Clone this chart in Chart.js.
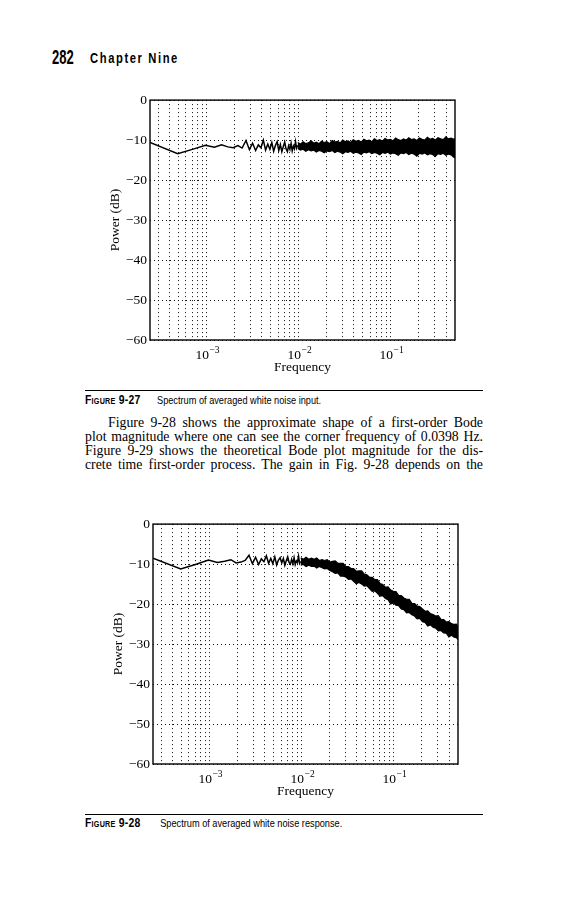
<!DOCTYPE html>
<html>
<head>
<meta charset="utf-8">
<script src="https://cdn.jsdelivr.net/npm/chart.js@4.4.1/dist/chart.umd.min.js"></script>
<style>
html, body { margin: 0; padding: 0; background: #fff; }
body { width: 570px; height: 900px; position: relative; overflow: hidden; color: #000; }
canvas { position: absolute; }
#top_chart { left: 90px; top: 89px; }
#bottom_chart { left: 93px; top: 513px; }
.pg { position: absolute; left: 52px; top: 46.5px; font-family: "Liberation Sans", sans-serif; font-weight: bold; font-size: 20px; line-height: 20px; transform: scaleX(0.65); transform-origin: left top; }
.chap { position: absolute; left: 90px; top: 51px; font-family: "Liberation Sans", sans-serif; font-weight: bold; font-size: 14px; line-height: 14px; letter-spacing: 2px; transform: scaleX(0.8); transform-origin: left top; }
.rule { position: absolute; left: 85px; width: 398px; height: 0; border-top: 1.5px solid #000; }
.cap { position: absolute; left: 85px; font-family: "Liberation Sans", sans-serif; font-size: 11.5px; line-height: 12px; white-space: nowrap; transform: scaleX(0.8); transform-origin: left top; }
.cap b { display: inline-block; font-variant: small-caps; font-size: 13px; letter-spacing: 0.3px; }
.txt { position: absolute; left: 85px; width: 398px; font-family: "Liberation Serif", serif; font-size: 13.8px; line-height: 14px; text-align: justify; text-align-last: justify; }
</style>
</head>
<body>
<div class="pg">282</div>
<div class="chap">Chapter Nine</div>

<canvas id="top_chart" width="375" height="290"></canvas>

<div class="rule" style="top:390px"></div>
<div class="cap" style="top:394px"><b style="width:90px">Figure 9-27</b>Spectrum of averaged white noise input.</div>

<div class="txt" style="top:416px; left:108px; width:375px">Figure 9-28 shows the approximate shape of a first-order Bode</div>
<div class="txt" style="top:430px">plot magnitude where one can see the corner frequency of 0.0398 Hz.</div>
<div class="txt" style="top:444px">Figure 9-29 shows the theoretical Bode plot magnitude for the dis-</div>
<div class="txt" style="top:457.5px">crete time first-order process. The gain in Fig. 9-28 depends on the</div>

<canvas id="bottom_chart" width="375" height="290"></canvas>

<div class="rule" style="top:814px"></div>
<div class="cap" style="top:817px"><b style="width:94px">Figure 9-28</b>Spectrum of averaged white noise response.</div>

<script>
// frequency axis (Hz), labelled decades and minor grid multiples
const xMin = 0.000244;
const xMax = 0.5;
const decadeValues = [0.001, 0.01, 0.1];
const decadeExponents = ['\u22123', '\u22122', '\u22121'];
const gridDecades = [-4, -3, -2, -1];
const gridMultiples = [1, 2, 3, 4, 5, 6, 7, 8, 9];

// low frequency bins, drawn as a single line
const freqLow = [
  0.000244, 0.000488, 0.000732, 0.000977, 0.00122, 0.00146, 0.00171, 0.00195, 0.0022, 0.00244,
  0.00269, 0.00293, 0.00317, 0.00342, 0.00366, 0.00391, 0.00415, 0.00439, 0.00464, 0.00488,
  0.00513, 0.00537, 0.00562, 0.00586, 0.0061, 0.00635, 0.00659, 0.00684, 0.00708, 0.00732,
  0.00757, 0.00781, 0.00806, 0.0083, 0.00854, 0.00879, 0.00903, 0.00928, 0.00952, 0.00977
];
const inputLow = [
  -10.6, -13.4, -12.2, -11.3, -11.8, -11.2, -11.7, -11.9, -11.4, -12.0,
  -10.1, -12.4, -10.8, -12.6, -11.2, -11.9, -10.0, -12.5, -11.0, -12.3,
  -10.6, -12.8, -11.3, -10.4, -12.6, -11.1, -12.9, -11.6, -10.5, -12.2,
  -12.9, -11.4, -12.3, -10.8, -12.7, -11.5, -12.2, -10.4, -12.0, -11.3
];
const responseLow = [
  -8.5, -11.2, -10.0, -9.0, -9.6, -9.3, -8.9, -9.7, -9.5, -9.1,
  -7.8, -9.9, -8.3, -10.1, -8.7, -9.4, -7.9, -9.8, -8.6, -9.9,
  -8.2, -10.2, -9.0, -8.4, -9.7, -8.6, -10.3, -9.1, -8.2, -9.6,
  -10.0, -8.8, -9.9, -8.4, -10.1, -9.2, -9.6, -8.0, -9.8, -9.3
];

// high frequency part: dense noise, drawn as a band between its edges
const freqBand = [
  0.0098, 0.0105, 0.0112, 0.012, 0.0128, 0.0137, 0.0146, 0.0156, 0.0167, 0.0178,
  0.019, 0.0203, 0.0217, 0.0232, 0.0248, 0.0265, 0.0283, 0.0302, 0.0323, 0.0345,
  0.0368, 0.0393, 0.042, 0.0449, 0.048, 0.0512, 0.0547, 0.0585, 0.0625, 0.0667,
  0.0713, 0.0762, 0.0814, 0.087, 0.093, 0.0993, 0.106, 0.1133, 0.121, 0.1293,
  0.1381, 0.1476, 0.1577, 0.1685, 0.18, 0.1923, 0.2055, 0.2195, 0.2345, 0.2506,
  0.2677, 0.286, 0.3056, 0.3265, 0.3488, 0.3727, 0.3982, 0.4254, 0.4545, 0.48, 0.5
];
const inputBandTop = [
  -10.6, -11.0, -10.4, -10.9, -10.7, -10.2, -10.8, -10.5, -10.9, -10.3,
  -10.6, -10.4, -10.9, -10.1, -10.5, -10.3, -10.7, -10.0, -10.4, -10.2,
  -10.6, -9.9, -10.3, -10.1, -10.5, -9.8, -10.2, -10.0, -10.4, -9.7,
  -10.1, -9.9, -10.3, -9.6, -10.0, -9.8, -10.2, -9.5, -9.9, -10.1,
  -9.7, -10.0, -9.4, -9.9, -9.7, -10.1, -9.5, -9.8, -10.0, -9.3,
  -9.8, -9.6, -10.0, -9.4, -9.7, -9.9, -9.2, -9.7, -9.5, -9.8, -9.6
];
const inputBandBottom = [
  -12.1, -12.5, -12.3, -12.8, -12.4, -12.7, -12.5, -13.0, -12.6, -12.8,
  -13.2, -12.7, -12.9, -12.6, -13.1, -12.8, -13.0, -13.4, -12.9, -13.1,
  -12.8, -13.3, -13.0, -13.2, -13.6, -13.0, -13.2, -12.9, -13.4, -13.1,
  -13.3, -13.7, -13.1, -13.3, -13.0, -13.5, -13.2, -13.4, -13.8, -13.2,
  -13.4, -13.1, -13.6, -13.3, -13.5, -14.0, -13.3, -13.5, -13.2, -13.7,
  -13.4, -13.6, -14.1, -13.4, -13.6, -13.3, -13.8, -13.5, -13.7, -14.2, -14.4
];
const responseBandTop = [
  -8.4, -8.8, -8.3, -8.8, -8.5, -8.8, -8.5, -9.1, -8.9, -9.1,
  -8.9, -9.5, -9.3, -9.2, -9.8, -9.8, -9.8, -10.6, -10.6, -11.1,
  -11.1, -11.8, -11.7, -11.7, -12.5, -12.7, -13.3, -13.3, -13.9, -13.9,
  -14.9, -15.1, -15.8, -15.7, -16.5, -16.8, -16.9, -17.8, -17.9, -18.5,
  -18.8, -18.8, -19.8, -19.9, -20.5, -20.6, -21.2, -21.8, -21.7, -22.4,
  -22.6, -23.0, -22.9, -23.8, -23.9, -24.5, -24.4, -24.9, -25.1, -25.0, -25.6
];
const responseBandBottom = [
  -10.3, -10.1, -10.6, -10.3, -10.6, -10.5, -11.0, -10.6, -10.9, -11.2,
  -11.1, -11.6, -11.9, -12.3, -12.2, -13.0, -13.0, -13.2, -13.8, -13.7,
  -14.3, -14.9, -14.6, -15.0, -15.5, -15.4, -16.1, -16.8, -16.7, -17.3,
  -18.0, -17.9, -18.6, -18.9, -20.0, -19.7, -20.3, -20.4, -21.2, -21.4,
  -22.2, -22.1, -22.7, -23.0, -23.7, -23.6, -24.4, -24.6, -25.5, -25.2,
  -25.8, -26.0, -26.7, -26.6, -27.2, -27.3, -28.2, -27.8, -28.3, -28.4, -28.9
];

function pts(xs, ys) {
  return xs.map((x, i) => ({ x: x, y: ys[i] }));
}

// grid positions at every 1..9 multiple of each decade
const gridTicks = [];
gridDecades.forEach(e => {
  gridMultiples.forEach(m => {
    const v = m * Math.pow(10, e);
    if (v > xMin && v < xMax) gridTicks.push(v);
  });
});

const serif = 'Liberation Serif';

// closed box round the plot area + the 10^n labels under the x axis
const frameBox = {
  id: 'frameBox',
  afterDraw(chart) {
    const a = chart.chartArea;
    const ctx = chart.ctx;
    const xs = chart.scales.x;
    ctx.save();
    ctx.strokeStyle = '#000';
    ctx.lineWidth = 1.4;
    ctx.strokeRect(a.left, a.top, a.right - a.left, a.bottom - a.top);
    ctx.fillStyle = '#000';
    ctx.textBaseline = 'alphabetic';
    decadeValues.forEach((v, i) => {
      const px = xs.getPixelForValue(v);
      ctx.font = '13.5px "' + serif + '"';
      ctx.textAlign = 'right';
      ctx.fillText('10', px + 2.5, a.bottom + 18.5);
      ctx.font = '9.5px "' + serif + '"';
      ctx.textAlign = 'left';
      ctx.fillText(decadeExponents[i], px + 3, a.bottom + 12.5);
    });
    ctx.restore();
  }
};

function makeChart(id, low, bandTop, bandBottom) {
  return new Chart(document.getElementById(id), {
    type: 'line',
    data: {
      datasets: [
        { data: pts(freqLow, low), borderColor: '#000', borderWidth: 1.5, pointRadius: 0, fill: false },
        { data: pts(freqBand, bandTop), borderColor: '#000', borderWidth: 1.2, pointRadius: 0, fill: '+1', backgroundColor: '#000' },
        { data: pts(freqBand, bandBottom), borderColor: '#000', borderWidth: 1.2, pointRadius: 0, fill: false }
      ]
    },
    options: {
      responsive: false,
      animation: false,
      devicePixelRatio: 1,
      layout: { padding: { top: 10, right: 10 } },
      plugins: { legend: { display: false }, tooltip: { enabled: false } },
      scales: {
        x: {
          type: 'logarithmic',
          min: xMin,
          max: xMax,
          afterBuildTicks(s) { s.ticks = gridTicks.map(v => ({ value: v })); },
          afterFit(s) { s.height = 39; },
          border: { display: false, dash: [1, 3] },
          grid: { color: '#111', lineWidth: 1, drawTicks: false },
          ticks: { autoSkip: false, maxRotation: 0, padding: 6, callback() { return ''; } },
          title: {
            display: true, text: 'Frequency', color: '#000',
            font: { family: serif, size: 13.5 },
            padding: { top: 0, bottom: 3 }
          }
        },
        y: {
          min: -60,
          max: 0,
          afterFit(s) { s.width = 60; },
          border: { display: false, dash: [1, 3] },
          grid: { color: '#111', lineWidth: 1, drawTicks: false },
          ticks: {
            stepSize: 10, padding: 3, color: '#000',
            font: { family: serif, size: 13.5 },
            callback(v) { return v === 0 ? '0' : '\u2212' + Math.abs(v); }
          },
          title: {
            display: true, text: 'Power (dB)', color: '#000',
            font: { family: serif, size: 13.5 },
            padding: { top: 17, bottom: 0 }
          }
        }
      }
    },
    plugins: [frameBox]
  });
}

const top_chart = makeChart('top_chart', inputLow, inputBandTop, inputBandBottom);
const bottom_chart = makeChart('bottom_chart', responseLow, responseBandTop, responseBandBottom);
</script>
</body>
</html>
